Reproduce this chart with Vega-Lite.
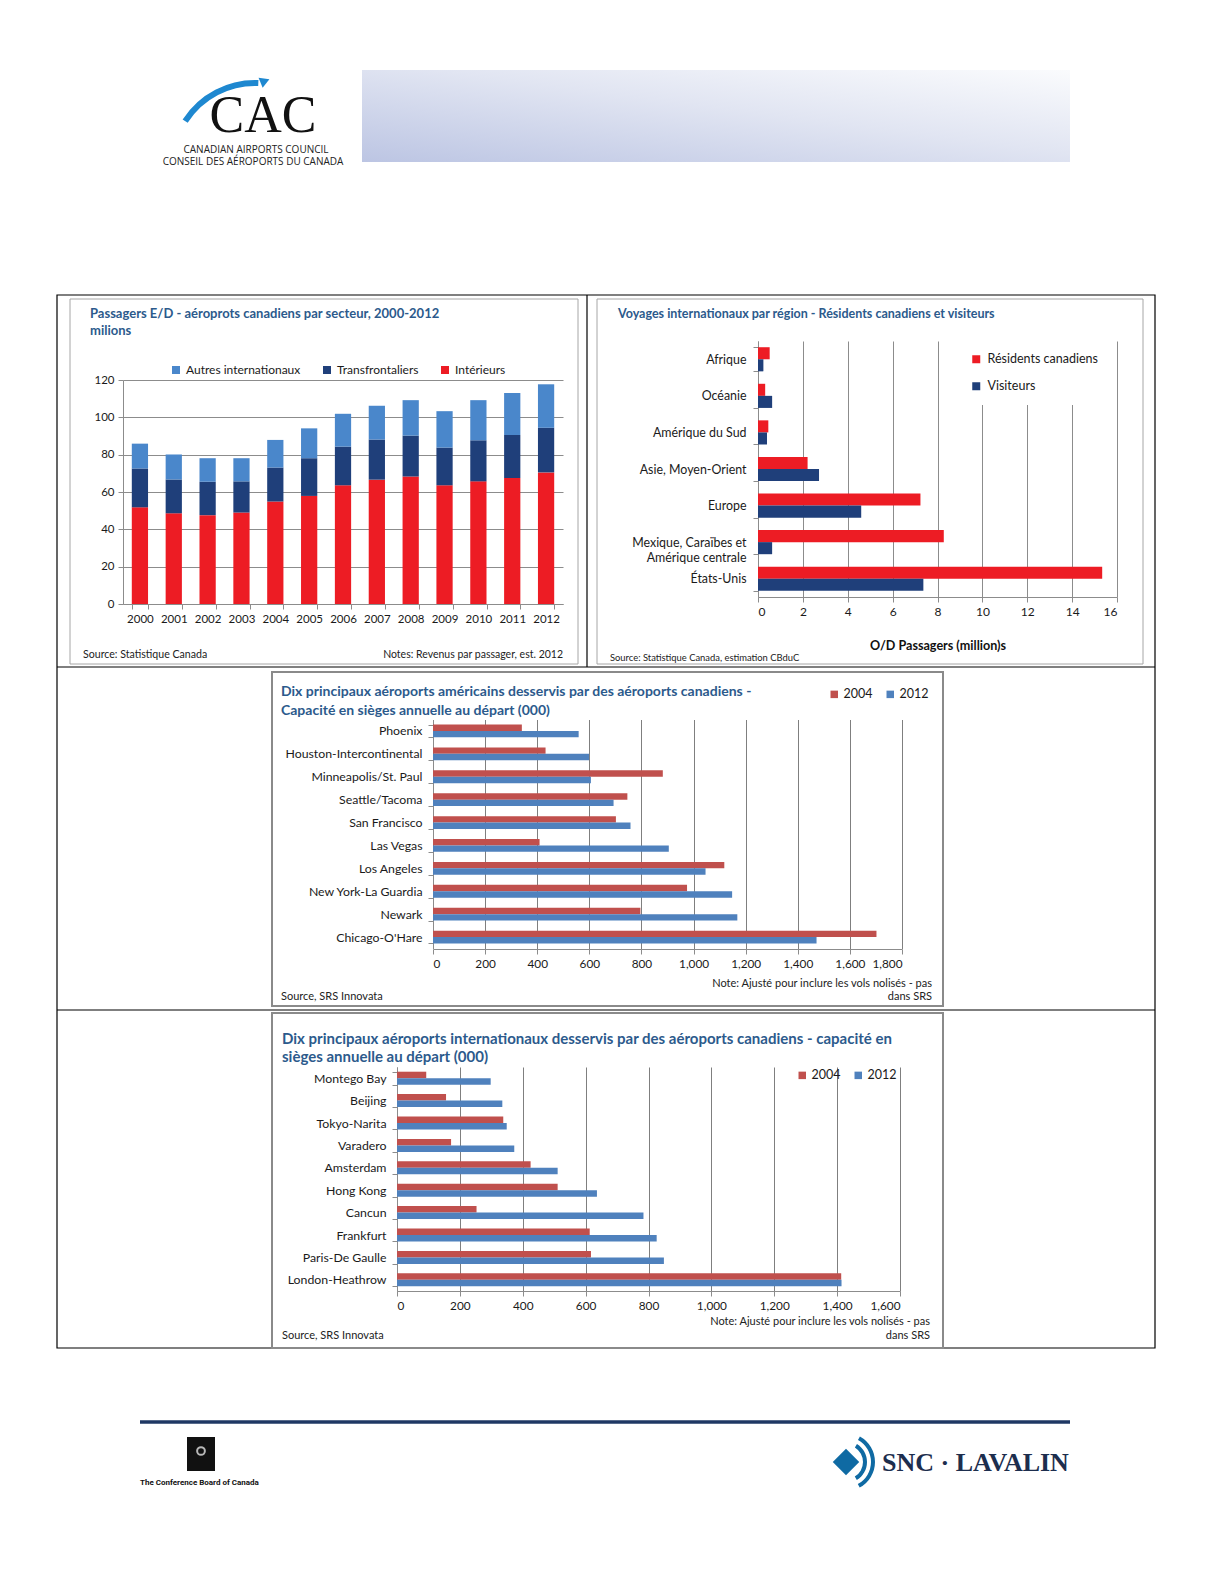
{
  "$schema": "https://vega.github.io/schema/vega-lite/v6.json",
  "width": 1224,
  "height": 1584,
  "autosize": {"type": "none"},
  "padding": 0,
  "background": "#ffffff",
  "config": {
    "view": {"stroke": null},
    "font": "Lato",
    "axis": {"labelFont": "Lato", "labelFontSize": 12.3, "labelColor": "#1a1a1a", "tickColor": "#8c8c8c", "domainColor": "#8c8c8c", "gridColor": "#8c8c8c", "titleFont": "Lato", "labelOverlap": false},
    "legend": {"labelFont": "Lato", "labelFontSize": 12.5, "labelColor": "#1a1a1a", "symbolType": "square", "symbolStrokeWidth": 0, "symbolOpacity": 1}
  },
  "resolve": {
    "scale": {"x": "independent", "y": "independent", "yOffset": "independent", "color": "independent"},
    "axis": {"x": "independent", "y": "independent"},
    "legend": {"color": "independent"}
  },
  "layer": [
    {"data": {"values": [{}]}, "mark": {"type": "rect", "x": 362, "x2": 1070, "y": 70, "y2": 162, "fill": {"gradient": "linear", "x1": 0, "y1": 1, "x2": 1, "y2": 0, "stops": [{"offset": 0, "color": "#BCC5E3"}, {"offset": 0.55, "color": "#E1E5F2"}, {"offset": 1, "color": "#FAFBFD"}]}}, "encoding": {}},
    {"data": {"values": [{}]}, "mark": {"type": "arc", "x": 255, "y": 166, "radius": 86, "radius2": 80, "theta": -1.0, "theta2": 0.04, "fill": "#1E88D0"}, "encoding": {}},
    {"data": {"values": [{}]}, "mark": {"type": "point", "shape": "triangle-right", "x": 265, "y": 81, "size": 120, "angle": -22, "filled": true, "fill": "#1E88D0", "strokeWidth": 0, "opacity": 1}, "encoding": {}},
    {"data": {"values": [{}]}, "mark": {"type": "text", "x": 263, "y": 143, "text": "CAC", "font": "Liberation Serif", "fontSize": 52, "align": "center", "baseline": "bottom", "color": "#111111"}, "encoding": {}},
    {"data": {"values": [{}]}, "mark": {"type": "text", "x": 256, "y": 150, "text": "CANADIAN AIRPORTS COUNCIL", "font": "Open Sans", "fontSize": 10, "align": "center", "baseline": "middle", "color": "#222222"}, "encoding": {}},
    {"data": {"values": [{}]}, "mark": {"type": "text", "x": 253, "y": 162, "text": "CONSEIL DES AÉROPORTS DU CANADA", "font": "Open Sans", "fontSize": 10, "align": "center", "baseline": "middle", "color": "#222222"}, "encoding": {}},

    {"data": {"values": [{}]}, "mark": {"type": "rect", "x": 57, "x2": 1155, "y": 295, "y2": 1348, "fillOpacity": 0, "stroke": "#000000", "strokeWidth": 1.2}, "encoding": {}},
    {"data": {"values": [{}]}, "mark": {"type": "rect", "x": 586.4, "x2": 587.6, "y": 295, "y2": 667, "fill": "#000000"}, "encoding": {}},
    {"data": {"values": [{}]}, "mark": {"type": "rect", "x": 57, "x2": 1155, "y": 666.4, "y2": 667.6, "fill": "#000000"}, "encoding": {}},
    {"data": {"values": [{}]}, "mark": {"type": "rect", "x": 57, "x2": 1155, "y": 1009.4, "y2": 1010.6, "fill": "#000000"}, "encoding": {}},
    {"data": {"values": [{}]}, "mark": {"type": "rect", "x": 70, "x2": 578, "y": 299, "y2": 664, "fillOpacity": 0, "stroke": "#a6a6a6", "strokeWidth": 1}, "encoding": {}},
    {"data": {"values": [{}]}, "mark": {"type": "rect", "x": 597, "x2": 1143, "y": 299, "y2": 664, "fillOpacity": 0, "stroke": "#a6a6a6", "strokeWidth": 1}, "encoding": {}},
    {"data": {"values": [{}]}, "mark": {"type": "rect", "x": 272, "x2": 943, "y": 672, "y2": 1006, "fillOpacity": 0, "stroke": "#8a8a8a", "strokeWidth": 2}, "encoding": {}},
    {"data": {"values": [{}]}, "mark": {"type": "rect", "x": 272, "x2": 943, "y": 1013, "y2": 1348, "fillOpacity": 0, "stroke": "#8a8a8a", "strokeWidth": 2}, "encoding": {}},

    {
      "data": {"values": [
        {"annee": "2000", "secteur": "Intérieurs", "passagers": 51.8}, {"annee": "2000", "secteur": "Transfrontaliers", "passagers": 20.8}, {"annee": "2000", "secteur": "Autres internationaux", "passagers": 13.3},
        {"annee": "2001", "secteur": "Intérieurs", "passagers": 48.6}, {"annee": "2001", "secteur": "Transfrontaliers", "passagers": 18.1}, {"annee": "2001", "secteur": "Autres internationaux", "passagers": 13.4},
        {"annee": "2002", "secteur": "Intérieurs", "passagers": 47.6}, {"annee": "2002", "secteur": "Transfrontaliers", "passagers": 17.9}, {"annee": "2002", "secteur": "Autres internationaux", "passagers": 12.6},
        {"annee": "2003", "secteur": "Intérieurs", "passagers": 49.0}, {"annee": "2003", "secteur": "Transfrontaliers", "passagers": 16.7}, {"annee": "2003", "secteur": "Autres internationaux", "passagers": 12.4},
        {"annee": "2004", "secteur": "Intérieurs", "passagers": 54.9}, {"annee": "2004", "secteur": "Transfrontaliers", "passagers": 18.2}, {"annee": "2004", "secteur": "Autres internationaux", "passagers": 14.8},
        {"annee": "2005", "secteur": "Intérieurs", "passagers": 57.9}, {"annee": "2005", "secteur": "Transfrontaliers", "passagers": 20.2}, {"annee": "2005", "secteur": "Autres internationaux", "passagers": 16.0},
        {"annee": "2006", "secteur": "Intérieurs", "passagers": 63.6}, {"annee": "2006", "secteur": "Transfrontaliers", "passagers": 20.7}, {"annee": "2006", "secteur": "Autres internationaux", "passagers": 17.6},
        {"annee": "2007", "secteur": "Intérieurs", "passagers": 66.6}, {"annee": "2007", "secteur": "Transfrontaliers", "passagers": 21.5}, {"annee": "2007", "secteur": "Autres internationaux", "passagers": 18.1},
        {"annee": "2008", "secteur": "Intérieurs", "passagers": 68.3}, {"annee": "2008", "secteur": "Transfrontaliers", "passagers": 21.9}, {"annee": "2008", "secteur": "Autres internationaux", "passagers": 19.0},
        {"annee": "2009", "secteur": "Intérieurs", "passagers": 63.6}, {"annee": "2009", "secteur": "Transfrontaliers", "passagers": 20.2}, {"annee": "2009", "secteur": "Autres internationaux", "passagers": 19.5},
        {"annee": "2010", "secteur": "Intérieurs", "passagers": 65.7}, {"annee": "2010", "secteur": "Transfrontaliers", "passagers": 22.0}, {"annee": "2010", "secteur": "Autres internationaux", "passagers": 21.5},
        {"annee": "2011", "secteur": "Intérieurs", "passagers": 67.5}, {"annee": "2011", "secteur": "Transfrontaliers", "passagers": 23.0}, {"annee": "2011", "secteur": "Autres internationaux", "passagers": 22.6},
        {"annee": "2012", "secteur": "Intérieurs", "passagers": 70.5}, {"annee": "2012", "secteur": "Transfrontaliers", "passagers": 23.9}, {"annee": "2012", "secteur": "Autres internationaux", "passagers": 23.3}
      ]},
      "transform": [{"calculate": "indexof(['Intérieurs','Transfrontaliers','Autres internationaux'], datum.secteur)", "as": "ordre"}],
      "mark": {"type": "bar"},
      "encoding": {
        "x": {"field": "annee", "type": "ordinal", "title": null,
              "scale": {"range": [123, 563], "paddingInner": 0.52, "paddingOuter": 0.26},
              "axis": {"orient": "bottom", "offset": -980, "labelAngle": 0, "labelPadding": 4, "tickSize": 5, "tickBand": "extent", "grid": false, "labelFontSize": 11.5}},
        "y": {"field": "passagers", "type": "quantitative", "stack": "zero", "title": null,
              "scale": {"domain": [0, 120], "range": [604, 380], "nice": false},
              "axis": {"orient": "left", "offset": -123, "values": [0, 20, 40, 60, 80, 100, 120], "grid": true, "tickSize": 5, "labelPadding": 4, "labelFontSize": 11.5}},
        "color": {"field": "secteur", "type": "nominal", "title": null,
              "scale": {"domain": ["Autres internationaux", "Transfrontaliers", "Intérieurs"], "range": ["#4A87CB", "#1F3F7A", "#ED1C24"]},
              "legend": {"orient": "none", "legendX": 170, "legendY": 364, "direction": "horizontal", "columnPadding": 20, "symbolSize": 64, "padding": 0, "labelOffset": 4, "labelFontSize": 12}},
        "order": {"field": "ordre", "type": "quantitative"}
      }
    },

    {
      "data": {"values": [
        {"region": "Afrique", "groupe": "Résidents canadiens", "passagers": 0.52}, {"region": "Afrique", "groupe": "Visiteurs", "passagers": 0.24},
        {"region": "Océanie", "groupe": "Résidents canadiens", "passagers": 0.32}, {"region": "Océanie", "groupe": "Visiteurs", "passagers": 0.63},
        {"region": "Amérique du Sud", "groupe": "Résidents canadiens", "passagers": 0.46}, {"region": "Amérique du Sud", "groupe": "Visiteurs", "passagers": 0.40},
        {"region": "Asie, Moyen-Orient", "groupe": "Résidents canadiens", "passagers": 2.21}, {"region": "Asie, Moyen-Orient", "groupe": "Visiteurs", "passagers": 2.72},
        {"region": "Europe", "groupe": "Résidents canadiens", "passagers": 7.24}, {"region": "Europe", "groupe": "Visiteurs", "passagers": 4.60},
        {"region": "Mexique, Caraïbes et Amérique centrale", "groupe": "Résidents canadiens", "passagers": 8.28}, {"region": "Mexique, Caraïbes et Amérique centrale", "groupe": "Visiteurs", "passagers": 0.63},
        {"region": "États-Unis", "groupe": "Résidents canadiens", "passagers": 15.34}, {"region": "États-Unis", "groupe": "Visiteurs", "passagers": 7.37}
      ]},
      "layer": [
        {
          "mark": {"type": "point", "opacity": 0},
          "encoding": {
            "y": {"field": "region", "type": "nominal", "sort": ["Afrique", "Océanie", "Amérique du Sud", "Asie, Moyen-Orient", "Europe", "Mexique, Caraïbes et Amérique centrale", "États-Unis"], "axis": null},
            "x": {"field": "passagers", "type": "quantitative", "axis": {"orient": "top", "grid": true, "labels": false, "ticks": false, "domain": false, "title": null, "values": [0, 2, 4, 6, 8, 10, 12, 14, 16]}}
          }
        },
        {
          "mark": {"type": "bar"},
          "encoding": {
            "y": {"field": "region", "type": "nominal", "title": null,
                  "sort": ["Afrique", "Océanie", "Amérique du Sud", "Asie, Moyen-Orient", "Europe", "Mexique, Caraïbes et Amérique centrale", "États-Unis"],
                  "scale": {"range": [341, 597], "paddingInner": 0.34, "paddingOuter": 0.17},
                  "axis": {"orient": "left", "offset": -758, "tickBand": "extent", "tickSize": 5, "labelPadding": 7, "grid": false, "labelLineHeight": 15, "labelFontSize": 12.4,
                           "labelExpr": "datum.value == 'Mexique, Caraïbes et Amérique centrale' ? ['Mexique, Caraïbes et', 'Amérique centrale'] : datum.value"}},
            "yOffset": {"field": "groupe", "type": "nominal", "sort": ["Résidents canadiens", "Visiteurs"]},
            "x": {"field": "passagers", "type": "quantitative", "title": "O/D Passagers (million)s",
                  "scale": {"domain": [0, 16], "range": [758, 1117], "nice": false},
                  "axis": {"orient": "bottom", "offset": -987, "grid": false, "values": [0, 2, 4, 6, 8, 10, 12, 14, 16], "tickSize": 5, "labelPadding": 4, "labelFontSize": 12, "titleFontWeight": "bold", "titleFontSize": 12.6, "titleColor": "#111111", "titlePadding": 22}},
            "color": {"field": "groupe", "type": "nominal", "title": null,
                  "scale": {"domain": ["Résidents canadiens", "Visiteurs"], "range": ["#ED1C24", "#1F3F7A"]},
                  "legend": {"orient": "none", "legendX": 958, "legendY": 341, "direction": "vertical", "fillColor": "#ffffff", "padding": 12, "rowPadding": 14, "symbolSize": 64, "labelOffset": 5}}
          }
        }
      ],
      "resolve": {"axis": {"x": "independent", "y": "independent"}}
    },

    {
      "data": {"values": [
        {"aeroport": "Phoenix", "annee": "2004", "sieges": 341}, {"aeroport": "Phoenix", "annee": "2012", "sieges": 559},
        {"aeroport": "Houston-Intercontinental", "annee": "2004", "sieges": 432}, {"aeroport": "Houston-Intercontinental", "annee": "2012", "sieges": 599},
        {"aeroport": "Minneapolis/St. Paul", "annee": "2004", "sieges": 882}, {"aeroport": "Minneapolis/St. Paul", "annee": "2012", "sieges": 606},
        {"aeroport": "Seattle/Tacoma", "annee": "2004", "sieges": 746}, {"aeroport": "Seattle/Tacoma", "annee": "2012", "sieges": 693},
        {"aeroport": "San Francisco", "annee": "2004", "sieges": 702}, {"aeroport": "San Francisco", "annee": "2012", "sieges": 758},
        {"aeroport": "Las Vegas", "annee": "2004", "sieges": 409}, {"aeroport": "Las Vegas", "annee": "2012", "sieges": 905},
        {"aeroport": "Los Angeles", "annee": "2004", "sieges": 1118}, {"aeroport": "Los Angeles", "annee": "2012", "sieges": 1046},
        {"aeroport": "New York-La Guardia", "annee": "2004", "sieges": 975}, {"aeroport": "New York-La Guardia", "annee": "2012", "sieges": 1148},
        {"aeroport": "Newark", "annee": "2004", "sieges": 796}, {"aeroport": "Newark", "annee": "2012", "sieges": 1168},
        {"aeroport": "Chicago-O'Hare", "annee": "2004", "sieges": 1702}, {"aeroport": "Chicago-O'Hare", "annee": "2012", "sieges": 1472}
      ]},
      "layer": [
        {
          "mark": {"type": "point", "opacity": 0},
          "encoding": {
            "y": {"field": "aeroport", "type": "nominal", "sort": ["Phoenix", "Houston-Intercontinental", "Minneapolis/St. Paul", "Seattle/Tacoma", "San Francisco", "Las Vegas", "Los Angeles", "New York-La Guardia", "Newark", "Chicago-O'Hare"], "axis": null},
            "x": {"field": "sieges", "type": "quantitative", "axis": {"orient": "top", "grid": true, "labels": false, "ticks": false, "domain": false, "title": null, "values": [0, 200, 400, 600, 800, 1000, 1200, 1400, 1600, 1800], "gridColor": "#7f7f7f"}}
          }
        },
        {
          "mark": {"type": "bar"},
          "encoding": {
            "y": {"field": "aeroport", "type": "nominal", "title": null,
                  "sort": ["Phoenix", "Houston-Intercontinental", "Minneapolis/St. Paul", "Seattle/Tacoma", "San Francisco", "Las Vegas", "Los Angeles", "New York-La Guardia", "Newark", "Chicago-O'Hare"],
                  "scale": {"range": [719.5, 948.5], "paddingInner": 0.44, "paddingOuter": 0.22},
                  "axis": {"orient": "left", "offset": -433, "tickBand": "extent", "tickSize": 5, "labelPadding": 6, "grid": false}},
            "yOffset": {"field": "annee", "type": "nominal", "sort": ["2004", "2012"]},
            "x": {"field": "sieges", "type": "quantitative", "title": null,
                  "scale": {"domain": [0, 1800], "range": [433, 902], "nice": false},
                  "axis": {"orient": "bottom", "offset": -635, "grid": false, "values": [0, 200, 400, 600, 800, 1000, 1200, 1400, 1600, 1800], "format": ",.0f", "tickSize": 5, "labelPadding": 4, "labelFontSize": 11.8}},
            "color": {"field": "annee", "type": "nominal", "title": null,
                  "scale": {"domain": ["2004", "2012"], "range": ["#C0504D", "#4F81BD"]},
                  "legend": {"orient": "none", "legendX": 828, "legendY": 688, "direction": "horizontal", "columnPadding": 11, "symbolSize": 56, "padding": 0, "labelOffset": 3}}
          }
        }
      ],
      "resolve": {"axis": {"x": "independent", "y": "independent"}}
    },

    {
      "data": {"values": [
        {"aeroport": "Montego Bay", "annee": "2004", "sieges": 93}, {"aeroport": "Montego Bay", "annee": "2012", "sieges": 298},
        {"aeroport": "Beijing", "annee": "2004", "sieges": 156}, {"aeroport": "Beijing", "annee": "2012", "sieges": 335},
        {"aeroport": "Tokyo-Narita", "annee": "2004", "sieges": 338}, {"aeroport": "Tokyo-Narita", "annee": "2012", "sieges": 349},
        {"aeroport": "Varadero", "annee": "2004", "sieges": 172}, {"aeroport": "Varadero", "annee": "2012", "sieges": 373},
        {"aeroport": "Amsterdam", "annee": "2004", "sieges": 425}, {"aeroport": "Amsterdam", "annee": "2012", "sieges": 511},
        {"aeroport": "Hong Kong", "annee": "2004", "sieges": 511}, {"aeroport": "Hong Kong", "annee": "2012", "sieges": 636},
        {"aeroport": "Cancun", "annee": "2004", "sieges": 253}, {"aeroport": "Cancun", "annee": "2012", "sieges": 784},
        {"aeroport": "Frankfurt", "annee": "2004", "sieges": 613}, {"aeroport": "Frankfurt", "annee": "2012", "sieges": 826},
        {"aeroport": "Paris-De Gaulle", "annee": "2004", "sieges": 617}, {"aeroport": "Paris-De Gaulle", "annee": "2012", "sieges": 849},
        {"aeroport": "London-Heathrow", "annee": "2004", "sieges": 1413}, {"aeroport": "London-Heathrow", "annee": "2012", "sieges": 1414}
      ]},
      "layer": [
        {
          "mark": {"type": "point", "opacity": 0},
          "encoding": {
            "y": {"field": "aeroport", "type": "nominal", "sort": ["Montego Bay", "Beijing", "Tokyo-Narita", "Varadero", "Amsterdam", "Hong Kong", "Cancun", "Frankfurt", "Paris-De Gaulle", "London-Heathrow"], "axis": null},
            "x": {"field": "sieges", "type": "quantitative", "axis": {"orient": "top", "grid": true, "labels": false, "ticks": false, "domain": false, "title": null, "values": [0, 200, 400, 600, 800, 1000, 1200, 1400, 1600], "gridColor": "#7f7f7f"}}
          }
        },
        {
          "mark": {"type": "bar"},
          "encoding": {
            "y": {"field": "aeroport", "type": "nominal", "title": null,
                  "sort": ["Montego Bay", "Beijing", "Tokyo-Narita", "Varadero", "Amsterdam", "Hong Kong", "Cancun", "Frankfurt", "Paris-De Gaulle", "London-Heathrow"],
                  "scale": {"range": [1067, 1291], "paddingInner": 0.42, "paddingOuter": 0.21},
                  "axis": {"orient": "left", "offset": -397, "tickBand": "extent", "tickSize": 5, "labelPadding": 6, "grid": false}},
            "yOffset": {"field": "annee", "type": "nominal", "sort": ["2004", "2012"]},
            "x": {"field": "sieges", "type": "quantitative", "title": null,
                  "scale": {"domain": [0, 1600], "range": [397, 900], "nice": false},
                  "axis": {"orient": "bottom", "offset": -293, "grid": false, "values": [0, 200, 400, 600, 800, 1000, 1200, 1400, 1600], "format": ",.0f", "tickSize": 5, "labelPadding": 4, "labelFontSize": 11.8}},
            "color": {"field": "annee", "type": "nominal", "title": null,
                  "scale": {"domain": ["2004", "2012"], "range": ["#C0504D", "#4F81BD"]},
                  "legend": {"orient": "none", "legendX": 796, "legendY": 1069, "direction": "horizontal", "columnPadding": 11, "symbolSize": 56, "padding": 0, "labelOffset": 3}}
          }
        }
      ],
      "resolve": {"axis": {"x": "independent", "y": "independent"}}
    },

    {"data": {"values": [{}]}, "mark": {"type": "text", "x": 90, "y": 314, "text": ["Passagers E/D - aéroprots canadiens par secteur, 2000-2012", "milions"], "lineHeight": 17, "fontSize": 13, "fontWeight": "bold", "align": "left", "baseline": "middle", "color": "#2C5A8C"}, "encoding": {}},
    {"data": {"values": [{}]}, "mark": {"type": "text", "x": 618, "y": 314, "text": "Voyages internationaux par région - Résidents canadiens et visiteurs", "fontSize": 12.5, "fontWeight": "bold", "align": "left", "baseline": "middle", "color": "#2C5A8C"}, "encoding": {}},
    {"data": {"values": [{}]}, "mark": {"type": "text", "x": 281, "y": 692, "text": ["Dix principaux aéroports américains desservis par des aéroports canadiens -", "Capacité en sièges annuelle au départ (000)"], "lineHeight": 19, "fontSize": 14, "fontWeight": "bold", "align": "left", "baseline": "middle", "color": "#2C5A8C"}, "encoding": {}},
    {"data": {"values": [{}]}, "mark": {"type": "text", "x": 282, "y": 1039, "text": ["Dix principaux aéroports internationaux desservis par des aéroports canadiens - capacité en", "sièges annuelle au départ (000)"], "lineHeight": 18, "fontSize": 15, "fontWeight": "bold", "align": "left", "baseline": "middle", "color": "#2C5A8C"}, "encoding": {}},
    {"data": {"values": [{}]}, "mark": {"type": "text", "x": 83, "y": 655, "text": "Source: Statistique Canada", "fontSize": 10.6, "align": "left", "baseline": "middle", "color": "#222222"}, "encoding": {}},
    {"data": {"values": [{}]}, "mark": {"type": "text", "x": 563, "y": 655, "text": "Notes: Revenus par passager, est. 2012", "fontSize": 10.5, "align": "right", "baseline": "middle", "color": "#222222"}, "encoding": {}},
    {"data": {"values": [{}]}, "mark": {"type": "text", "x": 610, "y": 658, "text": "Source: Statistique Canada, estimation CBduC", "fontSize": 9.4, "align": "left", "baseline": "middle", "color": "#222222"}, "encoding": {}},
    {"data": {"values": [{}]}, "mark": {"type": "text", "x": 932, "y": 984, "text": ["Note: Ajusté pour inclure les vols nolisés  - pas", "dans SRS"], "lineHeight": 13, "fontSize": 11, "align": "right", "baseline": "middle", "color": "#222222"}, "encoding": {}},
    {"data": {"values": [{}]}, "mark": {"type": "text", "x": 281, "y": 997, "text": "Source, SRS Innovata", "fontSize": 11, "align": "left", "baseline": "middle", "color": "#222222"}, "encoding": {}},
    {"data": {"values": [{}]}, "mark": {"type": "text", "x": 930, "y": 1322, "text": ["Note: Ajusté pour inclure les vols nolisés - pas", "dans SRS"], "lineHeight": 14, "fontSize": 11, "align": "right", "baseline": "middle", "color": "#222222"}, "encoding": {}},
    {"data": {"values": [{}]}, "mark": {"type": "text", "x": 282, "y": 1336, "text": "Source, SRS Innovata", "fontSize": 11, "align": "left", "baseline": "middle", "color": "#222222"}, "encoding": {}},

    {"data": {"values": [{}]}, "mark": {"type": "rect", "x": 140, "x2": 1070, "y": 1420.3, "y2": 1423.7, "fill": "#1F3864"}, "encoding": {}},
    {"data": {"values": [{}]}, "mark": {"type": "rect", "x": 187, "x2": 215, "y": 1437, "y2": 1471, "fill": "#111111"}, "encoding": {}},
    {"data": {"values": [{}]}, "mark": {"type": "point", "shape": "circle", "x": 201, "y": 1451, "size": 60, "filled": false, "stroke": "#ffffff", "strokeWidth": 2}, "encoding": {}},
    {"data": {"values": [{}]}, "mark": {"type": "text", "x": 140, "y": 1483, "text": "The Conference Board of Canada", "font": "Roboto", "fontSize": 8, "fontWeight": "bold", "align": "left", "baseline": "middle", "color": "#111111"}, "encoding": {}},
    {"data": {"values": [{}]}, "mark": {"type": "point", "shape": "diamond", "x": 846, "y": 1462, "size": 700, "filled": true, "fill": "#0F6AA3", "strokeWidth": 0, "opacity": 1}, "encoding": {}},
    {"data": {"values": [{}]}, "mark": {"type": "arc", "x": 846, "y": 1462, "radius": 21, "radius2": 17, "theta": 0.55, "theta2": 2.6, "fill": "#0F6AA3"}, "encoding": {}},
    {"data": {"values": [{}]}, "mark": {"type": "arc", "x": 846, "y": 1462, "radius": 29, "radius2": 25, "theta": 0.5, "theta2": 2.65, "fill": "#0F6AA3"}, "encoding": {}},
    {"data": {"values": [{}]}, "mark": {"type": "text", "x": 882, "y": 1463, "text": "SNC · LAVALIN", "font": "Liberation Serif", "fontSize": 26, "fontWeight": "bold", "align": "left", "baseline": "middle", "color": "#1D2E4E"}, "encoding": {}}
  ]
}
